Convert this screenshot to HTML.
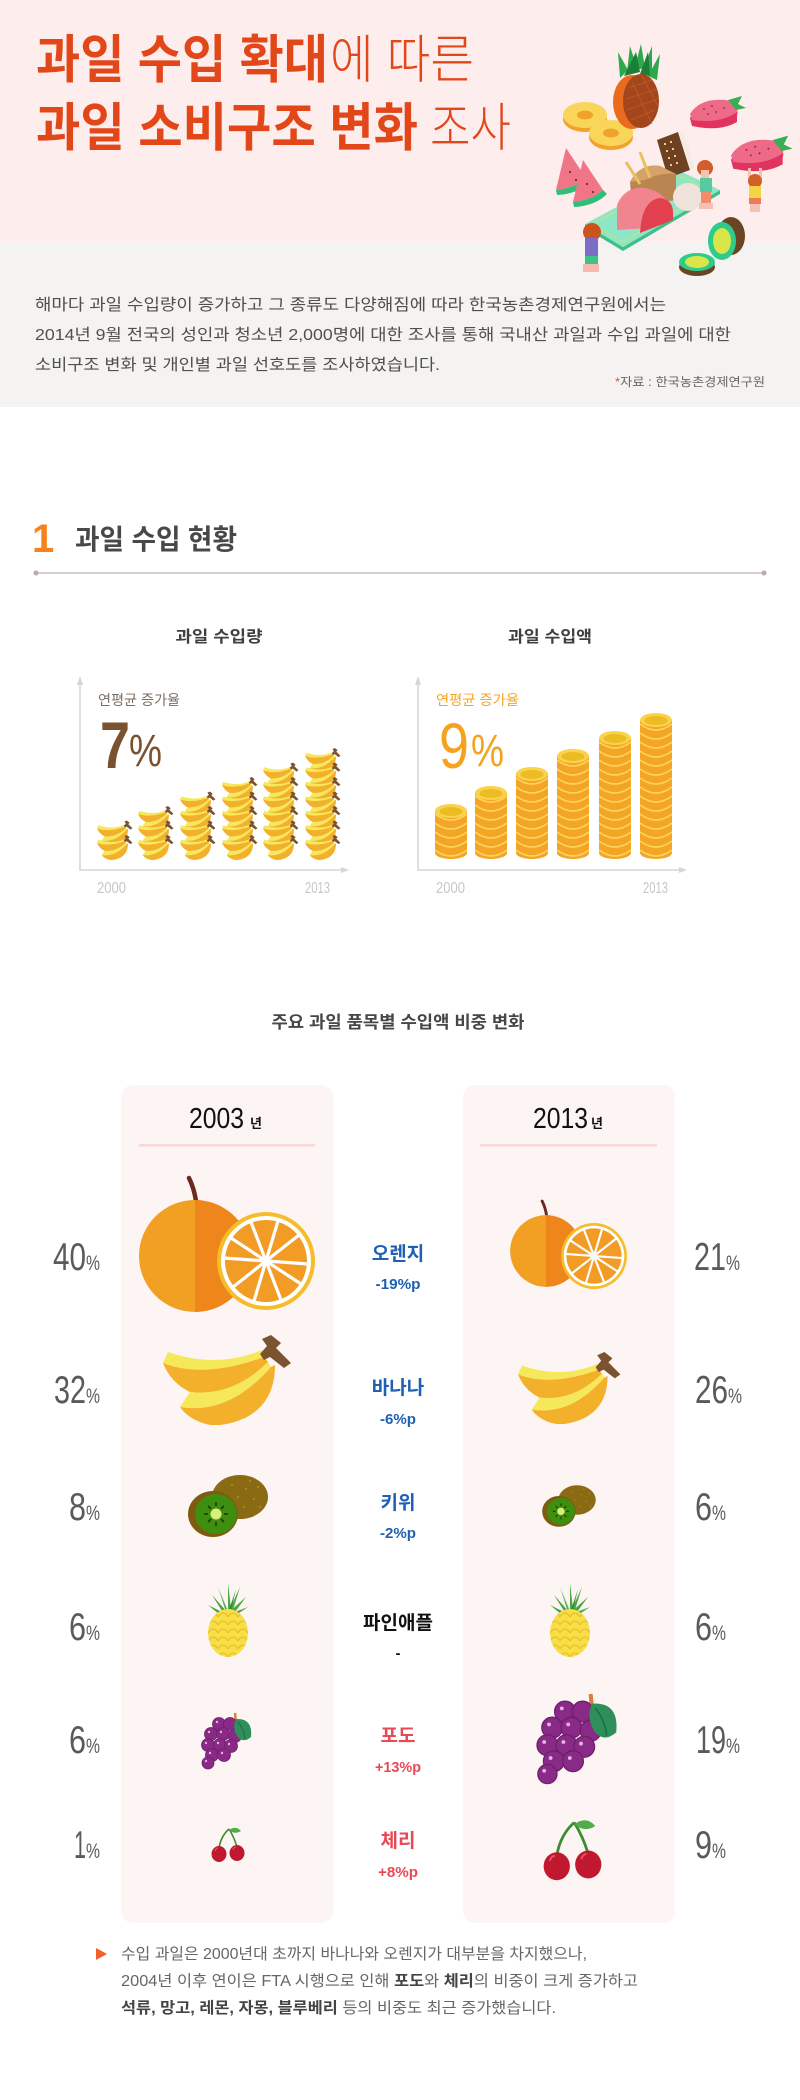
<!DOCTYPE html>
<html lang="ko">
<head>
<meta charset="utf-8">
<title>과일 수입 확대에 따른 과일 소비구조 변화 조사</title>
<style>
  html,body{margin:0;padding:0;background:#fff;}
  body{width:800px;height:2100px;overflow:hidden;position:relative;}
  svg{position:absolute;left:0;top:0;display:block;}
  text{font-family:"Liberation Sans","Noto Sans CJK KR","NanumGothic",sans-serif;}
</style>
</head>
<body>
<svg width="800" height="2100" viewBox="0 0 800 2100" xmlns="http://www.w3.org/2000/svg">
  <defs>
    <!-- banana bunch -->
    <symbol id="ban" viewBox="0 0 130 90">
      <path d="M5,17 Q54,34 99,15 L101,22 Q40,44 0,28 Z" fill="#f5e85a"/>
      <path d="M0,28 Q40,44 101,22 L105,27 Q70,62 27,57 Q8,48 0,28 Z" fill="#f3b02b"/>
      <path d="M27,57 Q70,62 105,27 L108,32 Q66,80 17,72 Z" fill="#f5e85a"/>
      <path d="M17,72 Q66,80 108,32 L112,30 Q112,68 82,83 Q55,95 37,87 Q24,82 17,72 Z" fill="#f3b02b"/>
      <path d="M97,19 L104,11 L99,4 L108,0 L118,8 L113,13 L128,28 L121,33 L107,22 L101,25 Z" fill="#7b5330"/>
    </symbol>
    <!-- coin stripes pattern -->
    <pattern id="coinp" patternUnits="userSpaceOnUse" width="32" height="9">
      <rect width="32" height="9" fill="#f4a526"/>
      <path d="M0,1 Q16,13 32,1" stroke="#fcd45e" stroke-width="1.6" fill="none"/>
    </pattern>
    <!-- pineapple skin pattern -->
    <pattern id="pinep" patternUnits="userSpaceOnUse" width="10" height="8">
      <rect width="10" height="8" fill="#f7de45"/>
      <path d="M0,8 Q5,0 10,8" stroke="#eabf2e" stroke-width="1.2" fill="none"/>
    </pattern>
    <!-- orange body -->
    <g id="obody">
      <path d="M-6,-78 Q-1,-68 1,-55" stroke="#6b2a20" stroke-width="4.5" fill="none" stroke-linecap="round"/>
      <circle cx="0" cy="0" r="56" fill="#f2a024"/>
      <path d="M0,-56 A56,56 0 0 1 0,56 Z" fill="#ee861b"/>
    </g>
    <!-- orange slice -->
    <g id="oslice">
      <circle cx="0" cy="0" r="49" fill="#f5bd2b"/>
      <circle cx="0" cy="0" r="45" fill="#ffffff"/>
      <circle cx="0" cy="0" r="41" fill="#f29c26"/>
      <g stroke="#ffffff" stroke-width="3.2">
        <line x1="42" y1="3" x2="-42" y2="-3"/>
        <line x1="35" y1="23" x2="-35" y2="-23"/>
        <line x1="15" y1="39" x2="-15" y2="-39"/>
        <line x1="-12" y1="40" x2="12" y2="-40"/>
        <line x1="-33" y1="26" x2="33" y2="-26"/>
      </g>
      <circle cx="0" cy="0" r="3" fill="#fff"/>
    </g>
    <!-- kiwi -->
    <g id="kiwi">
      <ellipse cx="0" cy="0" rx="28" ry="22" fill="#8b6a14"/>
      <g fill="#b38d30">
        <circle cx="-8" cy="-12" r="1"/><circle cx="6" cy="-8" r="1"/><circle cx="14" cy="2" r="1"/>
        <circle cx="4" cy="10" r="1"/><circle cx="18" cy="-10" r="1"/><circle cx="-2" cy="0" r="1"/>
        <circle cx="20" cy="10" r="1"/><circle cx="10" cy="-16" r="1"/>
      </g>
      <ellipse cx="-27" cy="17" rx="25" ry="23" fill="#7d5c10"/>
      <ellipse cx="-24" cy="17" rx="21" ry="20" fill="#3e8e0f"/>
      <g stroke="#1d3d05" stroke-width="1.6">
        <line x1="-24" y1="5" x2="-24" y2="9"/><line x1="-24" y1="25" x2="-24" y2="29"/>
        <line x1="-36" y1="17" x2="-32" y2="17"/><line x1="-16" y1="17" x2="-12" y2="17"/>
        <line x1="-32" y1="9" x2="-29" y2="12"/><line x1="-16" y1="9" x2="-19" y2="12"/>
        <line x1="-32" y1="25" x2="-29" y2="22"/><line x1="-16" y1="25" x2="-19" y2="22"/>
      </g>
      <circle cx="-24" cy="17" r="5.5" fill="#d6f07a"/>
    </g>
    <!-- pineapple -->
    <g id="pine">
      <path d="M0,-20 L-16,-38 L-6,-22 Z M0,-20 L-10,-46 L-3,-24 Z M0,-20 L0,-50 L3,-24 Z M0,-20 L12,-46 L5,-23 Z M0,-20 L18,-36 L7,-21 Z M-4,-20 L-20,-28 L-8,-18 Z M4,-20 L20,-26 L8,-18 Z" fill="#4aa83c"/>
      <path d="M0,-20 L-8,-42 L-1,-24 Z M0,-20 L8,-44 L3,-23 Z" fill="#2f8a2f"/>
      <ellipse cx="0" cy="0" rx="20" ry="24" fill="url(#pinep)"/>
    </g>
    <!-- grapes -->
    <g id="grape">
      <path d="M36,0 L37,10" stroke="#e07b39" stroke-width="2.5" fill="none"/>
      <g fill="#8a2a87" stroke="#6d1f6c" stroke-width="0.8">
        <circle cx="20" cy="11" r="6.5"/><circle cx="31" cy="11" r="6.5"/>
        <circle cx="12" cy="21" r="6.5"/><circle cx="24" cy="21" r="6.5"/><circle cx="36" cy="23" r="6.5"/>
        <circle cx="9" cy="32" r="6.5"/><circle cx="21" cy="32" r="6.5"/><circle cx="32" cy="33" r="6.5"/>
        <circle cx="13" cy="42" r="6.5"/><circle cx="25" cy="42" r="6.5"/>
        <circle cx="9" cy="50" r="6"/>
      </g>
      <g fill="#e3b3e0">
        <circle cx="18" cy="9" r="1.2"/><circle cx="10" cy="19" r="1.2"/><circle cx="22" cy="19" r="1.2"/>
        <circle cx="7" cy="30" r="1.2"/><circle cx="19" cy="30" r="1.2"/><circle cx="30" cy="31" r="1.2"/>
        <circle cx="11" cy="40" r="1.2"/><circle cx="23" cy="40" r="1.2"/><circle cx="7" cy="48" r="1.2"/>
      </g>
      <path d="M37,6 Q54,5 52,24 Q44,31 38,23 Q33,14 37,6 Z" fill="#2f8f5b"/>
      <path d="M39,9 Q45,16 46,26" stroke="#1f6e44" stroke-width="1" fill="none"/>
    </g>
    <!-- cherry -->
    <g id="cherry">
      <path d="M9,21 Q11,9 19,2 M27,20 Q24,10 19,2" stroke="#3c8d2f" stroke-width="1.6" fill="none"/>
      <path d="M19,3 Q26,-2 31,4 Q25,8 19,3 Z" fill="#4fae4a"/>
      <ellipse cx="9" cy="27" rx="7.5" ry="8" fill="#c0182f"/>
      <ellipse cx="27" cy="26" rx="7.5" ry="8" fill="#c0182f"/>
      <path d="M5,24 Q6,21 8,21" stroke="#e45a6a" stroke-width="1" fill="none"/>
      <path d="M23,23 Q24,20 26,20" stroke="#e45a6a" stroke-width="1" fill="none"/>
    </g>
    <!-- strawberry -->
    <g id="straw">
      <path d="M0,18 Q10,2 35,4 Q50,6 47,16 L47,22 Q30,32 2,26 Z" fill="#e2335f"/>
      <path d="M0,14 Q10,-2 35,0 Q50,2 47,12 Q30,24 2,20 Z" fill="#ee6a86"/>
      <path d="M38,0 L52,-4 L48,4 L56,8 L46,10 Z" fill="#38ae55"/>
      <g fill="#8a2a3a"><circle cx="14" cy="9" r="0.9"/><circle cx="22" cy="6" r="0.9"/><circle cx="26" cy="12" r="0.9"/><circle cx="34" cy="8" r="0.9"/><circle cx="18" cy="14" r="0.9"/></g>
    </g>
  </defs>

  <!-- ===== HEADER ===== -->
  <rect x="0" y="0" width="800" height="241" fill="#fdeded"/>
  <rect x="0" y="241" width="800" height="166" fill="#f4f3f1"/>

  <text x="36" y="78" font-size="52" font-weight="700" fill="#e2471a" textLength="292" lengthAdjust="spacingAndGlyphs">과일 수입 확대</text>
  <text x="330" y="78" font-size="52" font-weight="300" fill="#e2471a" textLength="144" lengthAdjust="spacingAndGlyphs">에 따른</text>
  <text x="36" y="146" font-size="52" font-weight="700" fill="#e2471a" textLength="382" lengthAdjust="spacingAndGlyphs">과일 소비구조 변화</text>
  <text x="430" y="146" font-size="52" font-weight="300" fill="#e2471a" textLength="81" lengthAdjust="spacingAndGlyphs">조사</text>

  <!-- illustration -->
  <g>
    <ellipse cx="585" cy="119" rx="22" ry="13" fill="#f0a22a"/>
    <ellipse cx="585" cy="115" rx="22" ry="13" fill="#f9d65a"/>
    <ellipse cx="585" cy="115" rx="8" ry="4.5" fill="#f0a22a"/>
    <ellipse cx="611" cy="137" rx="22" ry="13" fill="#f0a22a"/>
    <ellipse cx="611" cy="133" rx="22" ry="13" fill="#f9d65a"/>
    <ellipse cx="611" cy="133" rx="8" ry="4.5" fill="#f0a22a"/>

    <path d="M620,78 L618,52 L628,70 Z M627,72 L630,46 L637,68 Z M634,70 L641,44 L645,68 Z M642,72 L652,46 L652,74 Z M648,76 L660,54 L657,80 Z" fill="#2ea84c"/>
    <path d="M624,76 L636,52 L640,72 Z M640,74 L648,52 L650,76 Z" fill="#1d7e37"/>
    <ellipse cx="632" cy="102" rx="19" ry="27" fill="#ea6b1d"/>
    <ellipse cx="641" cy="101" rx="18" ry="27" fill="#a4461c"/>
    <path d="M628,88 L652,80 M626,99 L657,89 M627,110 L658,99 M631,120 L655,110 M632,82 L652,124 M642,76 L658,106" stroke="#c0602a" stroke-width="1" opacity="0.7" fill="none"/>

    <use href="#straw" transform="translate(690,100)"/>
    <use href="#straw" transform="translate(731,140) scale(1.1)"/>

    <path d="M566,148 L586,178 Q575,188 556,190 Z" fill="#f07586"/>
    <path d="M586,178 Q575,188 556,190 L557,195 Q578,194 590,182 Z" fill="#2fbf7a"/>
    <path d="M583,160 L603,190 Q592,200 573,202 Z" fill="#f07586"/>
    <path d="M603,190 Q592,200 573,202 L574,207 Q595,206 607,194 Z" fill="#2fbf7a"/>
    <g fill="#5a2020"><circle cx="570" cy="172" r="1"/><circle cx="576" cy="180" r="1"/><circle cx="587" cy="184" r="1"/><circle cx="593" cy="192" r="1"/></g>

    <path d="M585,228 L623,251 L720,194 L720,190 L623,247 L585,224 Z" fill="#3fbf8c"/>
    <path d="M585,224 L623,247 L720,190 L682,172 Z" fill="#8fe6c6"/>
    <path d="M592,224 L623,242 L710,190 L682,177 Z" fill="none" stroke="#c9e86a" stroke-width="0.8"/>

    <path d="M657,140 L678,132 L690,170 L668,178 Z" fill="#6e4125"/>
    <path d="M678,132 L684,134 L695,168 L690,170 Z" fill="#f3ece5"/>
    <g fill="#f0cf7a"><rect x="664" y="143" width="2" height="2"/><rect x="670" y="141" width="2" height="2"/><rect x="666" y="150" width="2" height="2"/><rect x="672" y="148" width="2" height="2"/><rect x="668" y="157" width="2" height="2"/><rect x="674" y="155" width="2" height="2"/><rect x="670" y="164" width="2" height="2"/><rect x="676" y="162" width="2" height="2"/></g>
    <path d="M630,182 Q640,163 660,166 L676,174 L676,200 L632,206 Z" fill="#b98550"/>
    <path d="M630,182 Q640,163 660,166 L676,174 Q660,172 645,180 Z" fill="#d4a26a"/>
    <line x1="626" y1="162" x2="640" y2="184" stroke="#e8c060" stroke-width="3"/>
    <line x1="640" y1="152" x2="650" y2="178" stroke="#e8c060" stroke-width="3"/>
    <ellipse cx="688" cy="197" rx="15" ry="14" fill="#efe3dc"/>
    <path d="M617,230 L617,205 Q625,186 645,188 Q668,192 670,212 L650,228 Z" fill="#f0848f"/>
    <path d="M640,233 Q642,200 660,198 Q673,200 673,212 L673,220 Z" fill="#e2404f"/>

    <circle cx="592" cy="232" r="9" fill="#c9541e"/>
    <rect x="585" y="238" width="13" height="18" fill="#7b6cc4"/>
    <rect x="585" y="256" width="13" height="8" fill="#3fc286"/>
    <rect x="583" y="264" width="16" height="8" fill="#f5b9b0"/>

    <circle cx="705" cy="168" r="8" fill="#d25e2a"/>
    <rect x="701" y="170" width="8" height="8" fill="#f6c3b0"/>
    <rect x="700" y="178" width="12" height="14" fill="#59c9a0"/>
    <rect x="701" y="192" width="10" height="11" fill="#f28c6a"/>
    <rect x="699" y="203" width="14" height="6" fill="#f4c1b5"/>

    <rect x="748" y="168" width="3" height="12" fill="#f4c1b5"/>
    <rect x="759" y="168" width="3" height="12" fill="#f4c1b5"/>
    <circle cx="755" cy="181" r="7" fill="#d25e2a"/>
    <rect x="749" y="186" width="12" height="12" fill="#f5d443"/>
    <rect x="749" y="198" width="12" height="6" fill="#ef7a5a"/>
    <rect x="750" y="204" width="10" height="8" fill="#f4c1b5"/>

    <ellipse cx="731" cy="236" rx="14" ry="19" fill="#6b4424"/>
    <ellipse cx="722" cy="241" rx="14" ry="19" fill="#2ecb8a"/>
    <ellipse cx="722" cy="241" rx="9" ry="13" fill="#d8e64a"/>
    <ellipse cx="697" cy="267" rx="18" ry="9" fill="#6b4424"/>
    <ellipse cx="697" cy="262" rx="18" ry="9" fill="#2ecb8a"/>
    <ellipse cx="697" cy="262" rx="12" ry="6" fill="#d8e64a"/>
  </g>

  <text x="35" y="310" font-size="16" fill="#4f4f4f" textLength="631" lengthAdjust="spacingAndGlyphs">해마다 과일 수입량이 증가하고 그 종류도 다양해짐에 따라 한국농촌경제연구원에서는</text>
  <text x="35" y="340" font-size="16" fill="#4f4f4f" textLength="696" lengthAdjust="spacingAndGlyphs">2014년 9월 전국의 성인과 청소년 2,000명에 대한 조사를 통해 국내산 과일과 수입 과일에 대한</text>
  <text x="35" y="370" font-size="16" fill="#4f4f4f" textLength="405" lengthAdjust="spacingAndGlyphs">소비구조 변화 및 개인별 과일 선호도를 조사하였습니다.</text>
  <text x="615" y="386" font-size="12" fill="#666" textLength="150" lengthAdjust="spacingAndGlyphs"><tspan fill="#e8503a">*</tspan>자료 : 한국농촌경제연구원</text>

  <!-- ===== SECTION 1 ===== -->
  <text x="32" y="552" font-size="40" font-weight="700" fill="#f7821d">1</text>
  <text x="75" y="549" font-size="28" font-weight="700" fill="#484848" textLength="162" lengthAdjust="spacingAndGlyphs">과일 수입 현황</text>
  <line x1="36" y1="573" x2="764" y2="573" stroke="#cbbcc8" stroke-width="1.5"/>
  <circle cx="36" cy="573" r="2.5" fill="#b8a5b5"/>
  <circle cx="764" cy="573" r="2.5" fill="#b8a5b5"/>

  <text x="219" y="642" text-anchor="middle" font-size="16" font-weight="700" fill="#3f3f3f" textLength="87" lengthAdjust="spacingAndGlyphs">과일 수입량</text>
  <text x="550" y="642" text-anchor="middle" font-size="16" font-weight="700" fill="#3f3f3f" textLength="84" lengthAdjust="spacingAndGlyphs">과일 수입액</text>

  <!-- axes -->
  <g stroke="#d5d5d5" stroke-width="1.5" fill="none">
    <path d="M80,684 V870 H342"/>
    <path d="M418,684 V870 H680"/>
  </g>
  <g fill="#d5d5d5">
    <polygon points="77,685 80,676 83,685"/>
    <polygon points="341,867 349,870 341,873"/>
    <polygon points="415,685 418,676 421,685"/>
    <polygon points="679,867 687,870 679,873"/>
  </g>

  <text x="98" y="705" font-size="14" fill="#7d6e62" textLength="82" lengthAdjust="spacingAndGlyphs">연평균 증가율</text>
  <text x="436" y="705" font-size="14" fill="#f5a623" textLength="83" lengthAdjust="spacingAndGlyphs">연평균 증가율</text>
  <text x="100" y="768" font-size="66" font-weight="700" fill="#7a5230" textLength="30" lengthAdjust="spacingAndGlyphs">7</text>
  <text x="129" y="766" font-size="45" fill="#7a5230" textLength="33" lengthAdjust="spacingAndGlyphs">%</text>
  <text x="439" y="768" font-size="64" fill="#f5a21f" textLength="30" lengthAdjust="spacingAndGlyphs">9</text>
  <text x="471" y="766" font-size="45" fill="#f5a21f" textLength="33" lengthAdjust="spacingAndGlyphs">%</text>

  <!-- banana stacks -->
  <g>
    <use href="#ban" x="97" y="820.5" width="36" height="25"/>
    <use href="#ban" x="97" y="835" width="36" height="25"/>

    <use href="#ban" x="138" y="806" width="36" height="25"/>
    <use href="#ban" x="138" y="820.5" width="36" height="25"/>
    <use href="#ban" x="138" y="835" width="36" height="25"/>

    <use href="#ban" x="180" y="791.5" width="36" height="25"/>
    <use href="#ban" x="180" y="806" width="36" height="25"/>
    <use href="#ban" x="180" y="820.5" width="36" height="25"/>
    <use href="#ban" x="180" y="835" width="36" height="25"/>

    <use href="#ban" x="222" y="777" width="36" height="25"/>
    <use href="#ban" x="222" y="791.5" width="36" height="25"/>
    <use href="#ban" x="222" y="806" width="36" height="25"/>
    <use href="#ban" x="222" y="820.5" width="36" height="25"/>
    <use href="#ban" x="222" y="835" width="36" height="25"/>

    <use href="#ban" x="263" y="762.5" width="36" height="25"/>
    <use href="#ban" x="263" y="777" width="36" height="25"/>
    <use href="#ban" x="263" y="791.5" width="36" height="25"/>
    <use href="#ban" x="263" y="806" width="36" height="25"/>
    <use href="#ban" x="263" y="820.5" width="36" height="25"/>
    <use href="#ban" x="263" y="835" width="36" height="25"/>

    <use href="#ban" x="305" y="748" width="36" height="25"/>
    <use href="#ban" x="305" y="762.5" width="36" height="25"/>
    <use href="#ban" x="305" y="777" width="36" height="25"/>
    <use href="#ban" x="305" y="791.5" width="36" height="25"/>
    <use href="#ban" x="305" y="806" width="36" height="25"/>
    <use href="#ban" x="305" y="820.5" width="36" height="25"/>
    <use href="#ban" x="305" y="835" width="36" height="25"/>
  </g>

  <!-- coin stacks -->
  <g transform="translate(435,858)">
    <path d="M0,-47 V-5 A16,6 0 0 0 32,-5 V-47 Z" fill="url(#coinp)"/>
    <ellipse cx="16" cy="-47" rx="16" ry="7" fill="#fbd24c"/><ellipse cx="16" cy="-46.5" rx="11.5" ry="4.5" fill="#ecbd22"/>
  </g>
  <g transform="translate(475,858)">
    <path d="M0,-65 V-5 A16,6 0 0 0 32,-5 V-65 Z" fill="url(#coinp)"/>
    <ellipse cx="16" cy="-65" rx="16" ry="7" fill="#fbd24c"/><ellipse cx="16" cy="-64.5" rx="11.5" ry="4.5" fill="#ecbd22"/>
  </g>
  <g transform="translate(516,858)">
    <path d="M0,-84 V-5 A16,6 0 0 0 32,-5 V-84 Z" fill="url(#coinp)"/>
    <ellipse cx="16" cy="-84" rx="16" ry="7" fill="#fbd24c"/><ellipse cx="16" cy="-83.5" rx="11.5" ry="4.5" fill="#ecbd22"/>
  </g>
  <g transform="translate(557,858)">
    <path d="M0,-102 V-5 A16,6 0 0 0 32,-5 V-102 Z" fill="url(#coinp)"/>
    <ellipse cx="16" cy="-102" rx="16" ry="7" fill="#fbd24c"/><ellipse cx="16" cy="-101.5" rx="11.5" ry="4.5" fill="#ecbd22"/>
  </g>
  <g transform="translate(599,858)">
    <path d="M0,-120 V-5 A16,6 0 0 0 32,-5 V-120 Z" fill="url(#coinp)"/>
    <ellipse cx="16" cy="-120" rx="16" ry="7" fill="#fbd24c"/><ellipse cx="16" cy="-119.5" rx="11.5" ry="4.5" fill="#ecbd22"/>
  </g>
  <g transform="translate(640,858)">
    <path d="M0,-138 V-5 A16,6 0 0 0 32,-5 V-138 Z" fill="url(#coinp)"/>
    <ellipse cx="16" cy="-138" rx="16" ry="7" fill="#fbd24c"/><ellipse cx="16" cy="-137.5" rx="11.5" ry="4.5" fill="#ecbd22"/>
  </g>

  <text x="97" y="893" font-size="16" fill="#c6c6c6" textLength="29" lengthAdjust="spacingAndGlyphs">2000</text>
  <text x="305" y="893" font-size="16" fill="#c6c6c6" textLength="25" lengthAdjust="spacingAndGlyphs">2013</text>
  <text x="436" y="893" font-size="16" fill="#c6c6c6" textLength="29" lengthAdjust="spacingAndGlyphs">2000</text>
  <text x="643" y="893" font-size="16" fill="#c6c6c6" textLength="25" lengthAdjust="spacingAndGlyphs">2013</text>

  <!-- ===== FRUIT SHARE ===== -->
  <text x="398" y="1028" text-anchor="middle" font-size="17" font-weight="700" fill="#474747" textLength="253" lengthAdjust="spacingAndGlyphs">주요 과일 품목별 수입액 비중 변화</text>

  <rect x="121" y="1085" width="212" height="838" rx="12" fill="#fdf4f4"/>
  <rect x="463" y="1085" width="212" height="838" rx="12" fill="#fdf4f4"/>

  <text x="189" y="1128" font-size="29" fill="#111" textLength="55" lengthAdjust="spacingAndGlyphs">2003</text>
  <text x="250" y="1128" font-size="13" font-weight="700" fill="#111">년</text>
  <text x="533" y="1128" font-size="29" fill="#111" textLength="55" lengthAdjust="spacingAndGlyphs">2013</text>
  <text x="591" y="1128" font-size="13" font-weight="700" fill="#111">년</text>
  <rect x="139" y="1144" width="176" height="2.5" fill="#fbd6d6"/>
  <rect x="480" y="1144" width="177" height="2.5" fill="#fbd6d6"/>

  <!-- fruits 2003 -->
  <use href="#obody" transform="translate(195,1256)"/>
  <use href="#oslice" transform="translate(266,1261)"/>
  <use href="#ban" x="163" y="1335" width="130" height="90"/>
  <use href="#kiwi" transform="translate(240,1497)"/>
  <use href="#pine" transform="translate(228,1633)"/>
  <use href="#grape" transform="translate(199,1713)"/>
  <use href="#cherry" transform="translate(210,1827)"/>

  <!-- fruits 2013 -->
  <use href="#obody" transform="translate(546,1251) scale(0.64)"/>
  <use href="#oslice" transform="translate(594,1256) scale(0.673)"/>
  <use href="#ban" x="518" y="1352" width="104" height="72"/>
  <use href="#kiwi" transform="translate(577,1500) scale(0.67)"/>
  <use href="#pine" transform="translate(570,1633)"/>
  <use href="#grape" transform="translate(533,1694) scale(1.6)"/>
  <use href="#cherry" transform="translate(541,1819) scale(1.75)"/>

  <!-- left percentages -->
  <g fill="#5a5a5a">
    <text x="53" y="1270" font-size="39" textLength="33" lengthAdjust="spacingAndGlyphs">40</text>
    <text x="86" y="1270" font-size="21" textLength="14" lengthAdjust="spacingAndGlyphs">%</text>
    <text x="54" y="1403" font-size="39" textLength="32" lengthAdjust="spacingAndGlyphs">32</text>
    <text x="86" y="1403" font-size="21" textLength="14" lengthAdjust="spacingAndGlyphs">%</text>
    <text x="69" y="1520" font-size="39" textLength="17" lengthAdjust="spacingAndGlyphs">8</text>
    <text x="86" y="1520" font-size="21" textLength="14" lengthAdjust="spacingAndGlyphs">%</text>
    <text x="69" y="1640" font-size="39" textLength="17" lengthAdjust="spacingAndGlyphs">6</text>
    <text x="86" y="1640" font-size="21" textLength="14" lengthAdjust="spacingAndGlyphs">%</text>
    <text x="69" y="1753" font-size="39" textLength="17" lengthAdjust="spacingAndGlyphs">6</text>
    <text x="86" y="1753" font-size="21" textLength="14" lengthAdjust="spacingAndGlyphs">%</text>
    <text x="74" y="1858" font-size="39" textLength="12" lengthAdjust="spacingAndGlyphs">1</text>
    <text x="86" y="1858" font-size="21" textLength="14" lengthAdjust="spacingAndGlyphs">%</text>
  </g>
  <!-- right percentages -->
  <g fill="#5a5a5a">
    <text x="694" y="1270" font-size="39" textLength="32" lengthAdjust="spacingAndGlyphs">21</text>
    <text x="726" y="1270" font-size="21" textLength="14" lengthAdjust="spacingAndGlyphs">%</text>
    <text x="695" y="1403" font-size="39" textLength="33" lengthAdjust="spacingAndGlyphs">26</text>
    <text x="728" y="1403" font-size="21" textLength="14" lengthAdjust="spacingAndGlyphs">%</text>
    <text x="695" y="1520" font-size="39" textLength="17" lengthAdjust="spacingAndGlyphs">6</text>
    <text x="712" y="1520" font-size="21" textLength="14" lengthAdjust="spacingAndGlyphs">%</text>
    <text x="695" y="1640" font-size="39" textLength="17" lengthAdjust="spacingAndGlyphs">6</text>
    <text x="712" y="1640" font-size="21" textLength="14" lengthAdjust="spacingAndGlyphs">%</text>
    <text x="696" y="1753" font-size="39" textLength="30" lengthAdjust="spacingAndGlyphs">19</text>
    <text x="726" y="1753" font-size="21" textLength="14" lengthAdjust="spacingAndGlyphs">%</text>
    <text x="695" y="1858" font-size="39" textLength="17" lengthAdjust="spacingAndGlyphs">9</text>
    <text x="712" y="1858" font-size="21" textLength="14" lengthAdjust="spacingAndGlyphs">%</text>
  </g>

  <!-- center labels -->
  <g text-anchor="middle" font-weight="700">
    <text x="398" y="1260" font-size="19" fill="#2060b4">오렌지</text>
    <text x="398" y="1289" font-size="15" fill="#2060b4" textLength="45" lengthAdjust="spacingAndGlyphs">-19%p</text>
    <text x="398" y="1394" font-size="19" fill="#2060b4">바나나</text>
    <text x="398" y="1424" font-size="15" fill="#2060b4" textLength="36" lengthAdjust="spacingAndGlyphs">-6%p</text>
    <text x="398" y="1509" font-size="19" fill="#2060b4">키위</text>
    <text x="398" y="1538" font-size="15" fill="#2060b4" textLength="36" lengthAdjust="spacingAndGlyphs">-2%p</text>
    <text x="398" y="1629" font-size="19" fill="#111">파인애플</text>
    <text x="398" y="1658" font-size="15" fill="#111">-</text>
    <text x="398" y="1742" font-size="19" fill="#e84a55">포도</text>
    <text x="398" y="1772" font-size="15" fill="#e84a55" textLength="46" lengthAdjust="spacingAndGlyphs">+13%p</text>
    <text x="398" y="1847" font-size="19" fill="#e84a55">체리</text>
    <text x="398" y="1877" font-size="15" fill="#e84a55" textLength="40" lengthAdjust="spacingAndGlyphs">+8%p</text>
  </g>

  <!-- note -->
  <polygon points="96,1948 107,1954 96,1960" fill="#f0602a"/>
  <text x="121" y="1959" font-size="15.5" fill="#666" textLength="466" lengthAdjust="spacingAndGlyphs">수입 과일은 2000년대 초까지 바나나와 오렌지가 대부분을 차지했으나,</text>
  <text x="121" y="1986" font-size="15.5" fill="#666" textLength="517" lengthAdjust="spacingAndGlyphs">2004년 이후 연이은 FTA 시행으로 인해 <tspan font-weight="700" fill="#444">포도</tspan>와 <tspan font-weight="700" fill="#444">체리</tspan>의 비중이 크게 증가하고</text>
  <text x="121" y="2013" font-size="15.5" fill="#666" textLength="435" lengthAdjust="spacingAndGlyphs"><tspan font-weight="700" fill="#444">석류, 망고, 레몬, 자몽, 블루베리</tspan> 등의 비중도 최근 증가했습니다.</text>
</svg>
</body>
</html>
